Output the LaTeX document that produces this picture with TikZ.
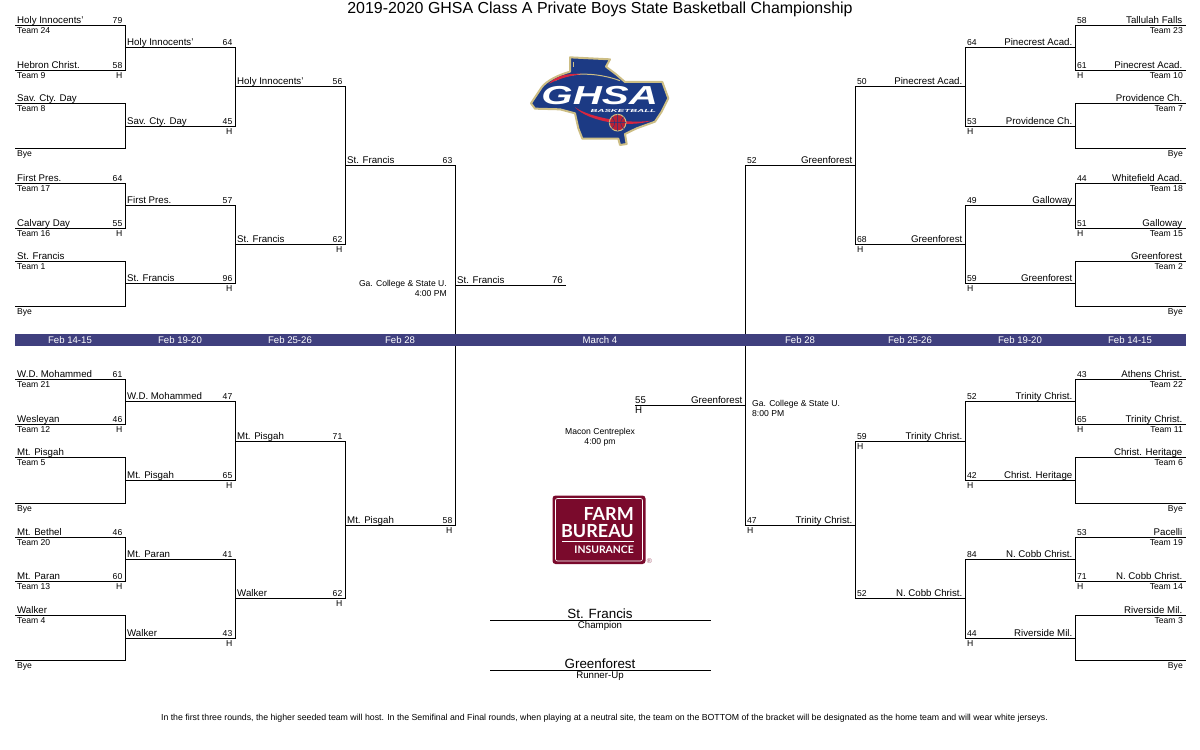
\documentclass[tikz,border=0pt]{standalone}
\usepackage{fontspec}
\setmainfont{Liberation Sans}
\newfontfamily\logofont{Lato}
\definecolor{barblue}{HTML}{3F3F7E}
\definecolor{ghsanavy}{HTML}{1C3A84}
\definecolor{ghsagold}{HTML}{CDBE85}
\definecolor{ghsared}{HTML}{D8263F}
\definecolor{fbmaroon}{HTML}{7A0A2C}
\tikzset{
  namesty/.style={inner sep=0pt, font=\fontsize{9.7}{10}\selectfont},
  smallsty/.style={inner sep=0pt, font=\fontsize{8.6}{10}\selectfont},
  datesty/.style={inner sep=0pt, text=white, font=\fontsize{9.6}{10}\selectfont},
  bigsty/.style={inner sep=0pt, font=\fontsize{13.4}{14}\selectfont},
  wire/.style={line width=1pt, line cap=rect},
}
% node only when there is a text
\newcommand{\lab}[4]{\ifx\relax#4\relax\else\node [#1] (#2) at (#3) {#4};\fi}
% id, x left, x right, y, name, score, seed, home
\newcommand{\slotl}[8]{%
  \coordinate (#1a) at (#2,#4);
  \coordinate (#1b) at (#3,#4);
  \lab{namesty, anchor=base west}{#1n}{#2+2,#4-2}{#5}
  \lab{smallsty, anchor=base east}{#1s}{#3-2.5,#4-2}{#6}
  \lab{smallsty, anchor=base west}{#1t}{#2+2,#4+8}{#7}
  \lab{smallsty, anchor=base east}{#1h}{#3-2.5,#4+8}{#8}
}
\newcommand{\slotr}[8]{%
  \coordinate (#1a) at (#2,#4);
  \coordinate (#1b) at (#3,#4);
  \lab{namesty, anchor=base east}{#1n}{#3-2.5,#4-2}{#5}
  \lab{smallsty, anchor=base west}{#1s}{#2+2,#4-2}{#6}
  \lab{smallsty, anchor=base east}{#1t}{#3-2,#4+8}{#7}
  \lab{smallsty, anchor=base west}{#1h}{#2+2,#4+8}{#8}
}
\begin{document}
\begin{tikzpicture}[x=1pt, y=-1pt]
  \useasboundingbox (0,0) rectangle (1200,750);

  \node [inner sep=0pt, font=\fontsize{15.95}{18}\selectfont] (title) at (600,9) {2019-2020 GHSA Class A Private Boys State Basketball Championship};

  % left side, first round
  \slotl{la1}{15}{125}{25}{Holy Innocents'}{79}{Team 24}{}
  \slotl{la2}{15}{125}{70}{Hebron Christ.}{58}{Team 9}{H}
  \slotl{la3}{15}{125}{103}{Sav. Cty. Day}{}{Team 8}{}
  \slotl{la4}{15}{125}{148}{}{}{Bye}{}
  \slotl{la5}{15}{125}{183}{First Pres.}{64}{Team 17}{}
  \slotl{la6}{15}{125}{228}{Calvary Day}{55}{Team 16}{H}
  \slotl{la7}{15}{125}{261}{St. Francis}{}{Team 1}{}
  \slotl{la8}{15}{125}{306}{}{}{Bye}{}
  \slotl{la9}{15}{125}{379}{W.D. Mohammed}{61}{Team 21}{}
  \slotl{la10}{15}{125}{424}{Wesleyan}{46}{Team 12}{H}
  \slotl{la11}{15}{125}{457}{Mt. Pisgah}{}{Team 5}{}
  \slotl{la12}{15}{125}{503}{}{}{Bye}{}
  \slotl{la13}{15}{125}{537}{Mt. Bethel}{46}{Team 20}{}
  \slotl{la14}{15}{125}{581}{Mt. Paran}{60}{Team 13}{H}
  \slotl{la15}{15}{125}{615}{Walker}{}{Team 4}{}
  \slotl{la16}{15}{125}{660}{}{}{Bye}{}

  % left side, later rounds
  \slotl{lb1}{125}{235}{47}{Holy Innocents'}{64}{}{}
  \slotl{lb2}{125}{235}{126}{Sav. Cty. Day}{45}{}{H}
  \slotl{lb3}{125}{235}{205}{First Pres.}{57}{}{}
  \slotl{lb4}{125}{235}{283}{St. Francis}{96}{}{H}
  \slotl{lb5}{125}{235}{401}{W.D. Mohammed}{47}{}{}
  \slotl{lb6}{125}{235}{480}{Mt. Pisgah}{65}{}{H}
  \slotl{lb7}{125}{235}{559}{Mt. Paran}{41}{}{}
  \slotl{lb8}{125}{235}{638}{Walker}{43}{}{H}
  \slotl{lc1}{235}{345}{86}{Holy Innocents'}{56}{}{}
  \slotl{lc2}{235}{345}{244}{St. Francis}{62}{}{H}
  \slotl{lc3}{235}{345}{441}{Mt. Pisgah}{71}{}{}
  \slotl{lc4}{235}{345}{598}{Walker}{62}{}{H}
  \slotl{ld1}{345}{455}{165}{St. Francis}{63}{}{}
  \slotl{ld2}{345}{455}{525}{Mt. Pisgah}{58}{}{H}
  \slotl{lf}{455}{565}{285}{St. Francis}{}{}{}
  \node [namesty, anchor=base east] (lfs) at (563,283) {76};

  % right side, first round
  \slotr{ra1}{1075}{1185}{25}{Tallulah Falls}{58}{Team 23}{}
  \slotr{ra2}{1075}{1185}{70}{Pinecrest Acad.}{61}{Team 10}{H}
  \slotr{ra3}{1075}{1185}{103}{Providence Ch.}{}{Team 7}{}
  \slotr{ra4}{1075}{1185}{148}{}{}{Bye}{}
  \slotr{ra5}{1075}{1185}{183}{Whitefield Acad.}{44}{Team 18}{}
  \slotr{ra6}{1075}{1185}{228}{Galloway}{51}{Team 15}{H}
  \slotr{ra7}{1075}{1185}{261}{Greenforest}{}{Team 2}{}
  \slotr{ra8}{1075}{1185}{306}{}{}{Bye}{}
  \slotr{ra9}{1075}{1185}{379}{Athens Christ.}{43}{Team 22}{}
  \slotr{ra10}{1075}{1185}{424}{Trinity Christ.}{65}{Team 11}{H}
  \slotr{ra11}{1075}{1185}{457}{Christ. Heritage}{}{Team 6}{}
  \slotr{ra12}{1075}{1185}{503}{}{}{Bye}{}
  \slotr{ra13}{1075}{1185}{537}{Pacelli}{53}{Team 19}{}
  \slotr{ra14}{1075}{1185}{581}{N. Cobb Christ.}{71}{Team 14}{H}
  \slotr{ra15}{1075}{1185}{615}{Riverside Mil.}{}{Team 3}{}
  \slotr{ra16}{1075}{1185}{660}{}{}{Bye}{}

  % right side, later rounds
  \slotr{rb1}{965}{1075}{47}{Pinecrest Acad.}{64}{}{}
  \slotr{rb2}{965}{1075}{126}{Providence Ch.}{53}{}{H}
  \slotr{rb3}{965}{1075}{205}{Galloway}{49}{}{}
  \slotr{rb4}{965}{1075}{283}{Greenforest}{59}{}{H}
  \slotr{rb5}{965}{1075}{401}{Trinity Christ.}{52}{}{}
  \slotr{rb6}{965}{1075}{480}{Christ. Heritage}{42}{}{H}
  \slotr{rb7}{965}{1075}{559}{N. Cobb Christ.}{84}{}{}
  \slotr{rb8}{965}{1075}{638}{Riverside Mil.}{44}{}{H}
  \slotr{rc1}{855}{965}{86}{Pinecrest Acad.}{50}{}{}
  \slotr{rc2}{855}{965}{244}{Greenforest}{68}{}{H}
  \slotr{rc3}{855}{965}{441}{Trinity Christ.}{59}{}{H}
  \slotr{rc4}{855}{965}{598}{N. Cobb Christ.}{52}{}{}
  \slotr{rd1}{745}{855}{165}{Greenforest}{52}{}{}
  \slotr{rd2}{745}{855}{525}{Trinity Christ.}{47}{}{H}
  \slotr{rf}{635}{745}{405}{Greenforest}{}{}{}
  \node [namesty, anchor=base west] (rfs) at (635,403) {55};
  \node [namesty, anchor=base west] (rfh) at (635,413) {H};

  % brackets
  \draw [wire] (la1a) -- (la1b) -- (la2b) -- (la2a);
  \draw [wire] (la3a) -- (la3b) -- (la4b) -- (la4a);
  \draw [wire] (la5a) -- (la5b) -- (la6b) -- (la6a);
  \draw [wire] (la7a) -- (la7b) -- (la8b) -- (la8a);
  \draw [wire] (la9a) -- (la9b) -- (la10b) -- (la10a);
  \draw [wire] (la11a) -- (la11b) -- (la12b) -- (la12a);
  \draw [wire] (la13a) -- (la13b) -- (la14b) -- (la14a);
  \draw [wire] (la15a) -- (la15b) -- (la16b) -- (la16a);
  \draw [wire] (lb1a) -- (lb1b) -- (lb2b) -- (lb2a);
  \draw [wire] (lb3a) -- (lb3b) -- (lb4b) -- (lb4a);
  \draw [wire] (lb5a) -- (lb5b) -- (lb6b) -- (lb6a);
  \draw [wire] (lb7a) -- (lb7b) -- (lb8b) -- (lb8a);
  \draw [wire] (lc1a) -- (lc1b) -- (lc2b) -- (lc2a);
  \draw [wire] (lc3a) -- (lc3b) -- (lc4b) -- (lc4a);
  \draw [wire] (ld1a) -- (ld1b) -- (ld2b) -- (ld2a);
  \draw [wire] (lfa) -- (lfb);

  \draw [wire] (ra1b) -- (ra1a) -- (ra2a) -- (ra2b);
  \draw [wire] (ra3b) -- (ra3a) -- (ra4a) -- (ra4b);
  \draw [wire] (ra5b) -- (ra5a) -- (ra6a) -- (ra6b);
  \draw [wire] (ra7b) -- (ra7a) -- (ra8a) -- (ra8b);
  \draw [wire] (ra9b) -- (ra9a) -- (ra10a) -- (ra10b);
  \draw [wire] (ra11b) -- (ra11a) -- (ra12a) -- (ra12b);
  \draw [wire] (ra13b) -- (ra13a) -- (ra14a) -- (ra14b);
  \draw [wire] (ra15b) -- (ra15a) -- (ra16a) -- (ra16b);
  \draw [wire] (rb1b) -- (rb1a) -- (rb2a) -- (rb2b);
  \draw [wire] (rb3b) -- (rb3a) -- (rb4a) -- (rb4b);
  \draw [wire] (rb5b) -- (rb5a) -- (rb6a) -- (rb6b);
  \draw [wire] (rb7b) -- (rb7a) -- (rb8a) -- (rb8b);
  \draw [wire] (rc1b) -- (rc1a) -- (rc2a) -- (rc2b);
  \draw [wire] (rc3b) -- (rc3a) -- (rc4a) -- (rc4b);
  \draw [wire] (rd1b) -- (rd1a) -- (rd2a) -- (rd2b);
  \draw [wire] (rfa) -- (rfb);

  % date bar
  \fill [barblue] (15,334) rectangle (1186,346);
  \node [datesty] (d1) at (70,340) {Feb 14-15};
  \node [datesty] (d2) at (180,340) {Feb 19-20};
  \node [datesty] (d3) at (290,340) {Feb 25-26};
  \node [datesty] (d4) at (400,340) {Feb 28};
  \node [datesty] (d5) at (600,340) {March 4};
  \node [datesty] (d6) at (800,340) {Feb 28};
  \node [datesty] (d7) at (910,340) {Feb 25-26};
  \node [datesty] (d8) at (1020,340) {Feb 19-20};
  \node [datesty] (d9) at (1130,340) {Feb 14-15};

  % sites
  \node [smallsty, anchor=base east] (siteone) at (447,286) {Ga. College \& State U.};
  \node [smallsty, anchor=base east] (timeone) at (447,296) {4:00 PM};
  \node [smallsty, anchor=base west] (sitetwo) at (752,406) {Ga. College \& State U.};
  \node [smallsty, anchor=base west] (timetwo) at (752,416) {8:00 PM};
  \node [smallsty, anchor=base] (sitefinal) at (600,434) {Macon Centreplex};
  \node [smallsty, anchor=base] (timefinal) at (600,444) {4:00 pm};

  % champion and runner-up
  \coordinate (champa) at (490,620);
  \coordinate (champb) at (710.5,620);
  \coordinate (runa) at (490,670);
  \coordinate (runb) at (710.5,670);
  \draw [wire] (champa) -- (champb);
  \draw [wire] (runa) -- (runb);
  \node [bigsty, anchor=base] (champ) at (600,618) {St. Francis};
  \node [namesty, anchor=base] (champlab) at (600,628) {Champion};
  \node [bigsty, anchor=base] (run) at (600,668) {Greenforest};
  \node [namesty, anchor=base] (runlab) at (600,678) {Runner-Up};

  \node [inner sep=0pt, anchor=base, font=\fontsize{8.76}{10}\selectfont] (note) at (604.5,720) {In the first three rounds, the higher seeded team will host. In the Semifinal and Final rounds, when playing at a neutral site, the team on the BOTTOM of the bracket will be designated as the home team and will wear white jerseys.};

  % GHSA logo
  \begin{scope}[shift={(525pt,-50pt)}, x=0.3333pt, y=-0.3333pt]
    \draw [ghsagold, line width=2pt, line join=round, fill=ghsanavy]
      (135,22) -- (255,28) -- (243,50) -- (272,72) -- (300,96) -- (412,96) -- (430,145)
      -- (410,185) -- (390,215) -- (335,235) -- (300,252)
      -- (305,282) -- (285,285) -- (280,266) -- (172,266) -- (160,235) -- (150,190)
      -- (105,178) -- (30,176) -- (18,160) -- (50,112) .. controls (65,92) and (100,75) .. (135,65) -- cycle;
    \draw [ghsagold, line width=0.8pt] (145,35) -- (145,52);
    \draw [ghsagold, line width=1pt] (90,92) .. controls (130,66) and (215,66) .. (285,92);
    \fill [ghsared] (70,102) .. controls (95,76) and (125,70) .. (170,72) .. controls (130,78) and (105,85) .. (70,102) -- cycle;
    \fill [ghsared] (150,172) .. controls (190,215) and (310,235) .. (380,212) .. controls (310,222) and (200,205) .. (150,172) -- cycle;
    \node [text=white, inner sep=0pt, xscale=1.55, font=\bfseries\itshape\fontsize{26}{26}\selectfont] (ghsa) at (224,137) {GHSA};
    \draw [ghsagold, line width=1pt, fill=ghsared!85!black] (278,218) circle (25);
    \draw [ghsanavy, line width=0.5pt] (278,193) -- (278,243) (253,218) -- (303,218)
      (260,200) .. controls (272,212) and (272,226) .. (260,236)
      (296,200) .. controls (284,212) and (284,226) .. (296,236);
    \node [text=white, inner sep=0pt, xscale=2.2, font=\bfseries\itshape\fontsize{4.4}{5}\selectfont] (ghsabb) at (295,182) {BASKETBALL};
  \end{scope}

  % Farm Bureau logo
  \fill [fbmaroon, rounded corners=3pt] (552.5,495.5) rectangle (645.5,564);
  \draw [white, line width=0.6pt, rounded corners=2pt] (555.5,498.5) rectangle (642.5,561);
  \node [text=white, inner sep=0pt, anchor=base east, font=\logofont\bfseries\fontsize{18}{18}\selectfont] (farm) at (634,520) {FARM};
  \node [text=white, inner sep=0pt, anchor=base east, font=\logofont\bfseries\fontsize{18}{18}\selectfont] (bureau) at (634,537) {BUREAU};
  \draw [white, line width=0.7pt] (562,541) -- (634,541);
  \node [text=white, inner sep=0pt, anchor=base east, font=\logofont\bfseries\fontsize{10.4}{10}\selectfont] (insurance) at (634,553) {INSURANCE};
  \node [text=fbmaroon!70, inner sep=0pt, font=\fontsize{7}{7}\selectfont] (regmark) at (649.5,561) {®};
\end{tikzpicture}
\end{document}
